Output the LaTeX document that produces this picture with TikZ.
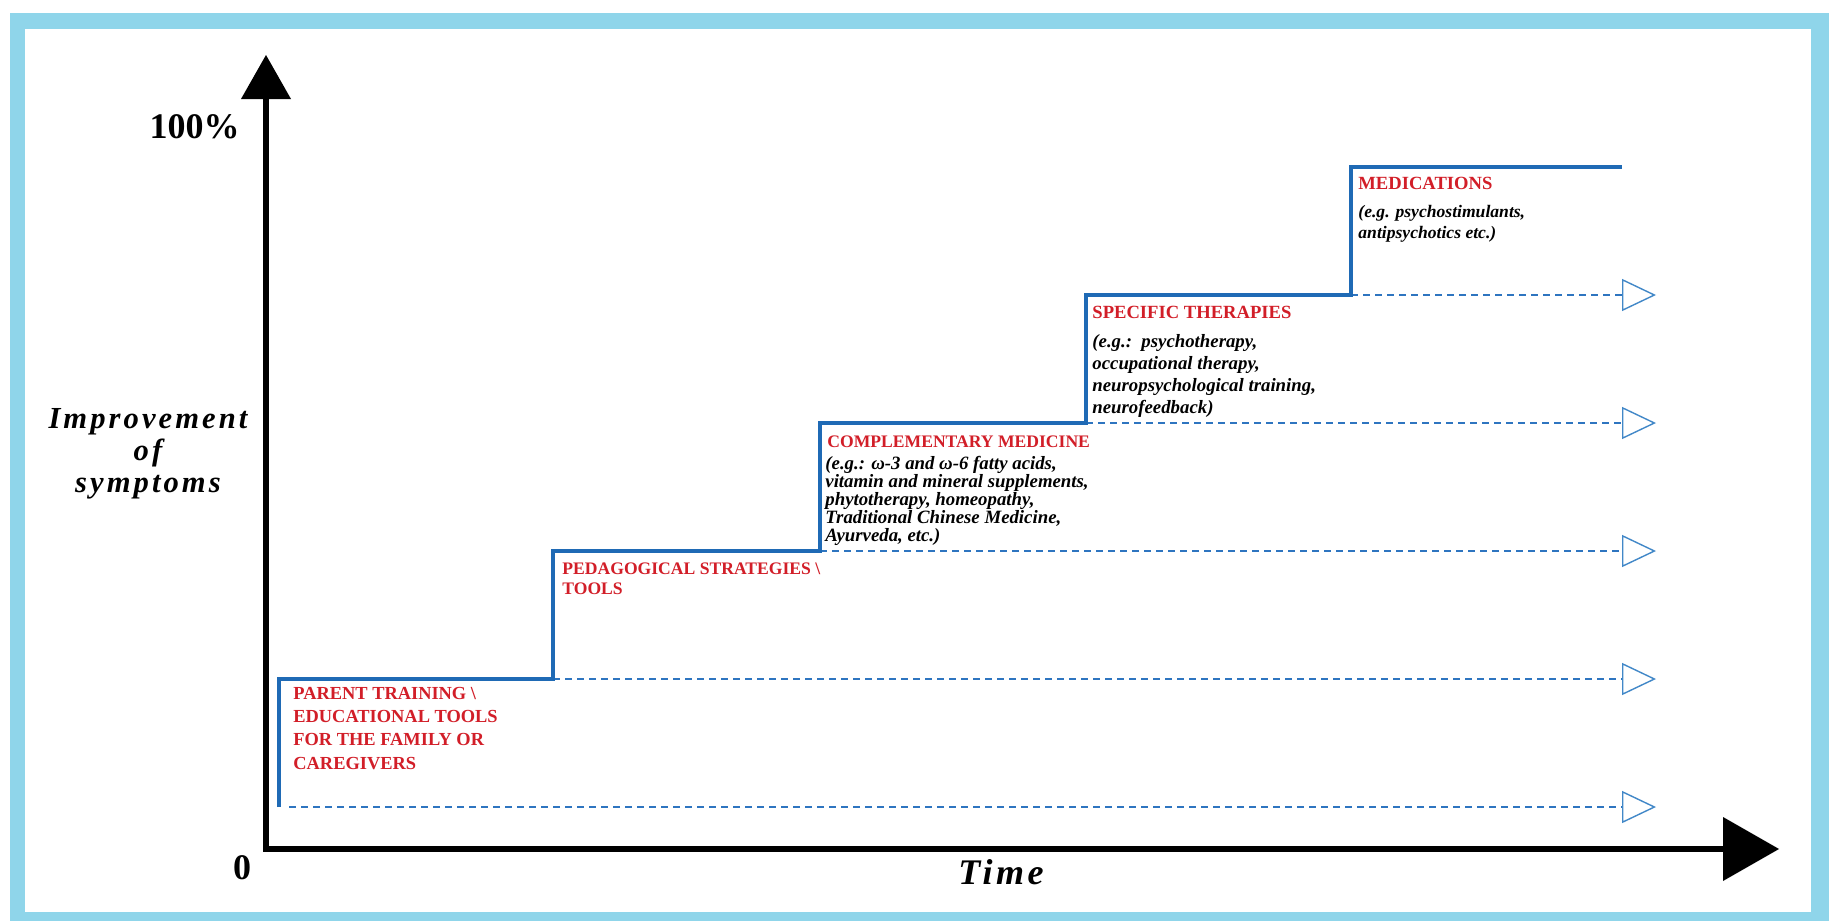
\documentclass[tikz,border=0pt]{standalone}
\usepackage{fontspec}
\setmainfont{Liberation Serif}
\newfontfamily\spacedfont[LetterSpace=10]{Liberation Serif}
\usetikzlibrary{arrows.meta,positioning}
\definecolor{framecyan}{RGB}{143,213,234}
\definecolor{stepblue}{RGB}{31,106,181}
\definecolor{dashblue}{RGB}{46,117,192}
\definecolor{tipblue}{RGB}{66,136,200}
\definecolor{labelred}{RGB}{210,30,40}
\tikzset{
  steplabel/.style={anchor=north west,inner sep=0pt,align=left,text=labelred,
    font=\fontsize{9.3}{11.6}\selectfont\bfseries},
  examples/.style={anchor=north west,inner sep=0pt,align=left,
    font=\fontsize{9.4}{11}\selectfont\bfseries\itshape},
  stepline/.style={stepblue,line width=2pt},
  guide/.style={dashblue,line width=1.2pt,dash pattern=on 3.5pt off 2.5pt,
    -{Triangle[open,length=17pt,width=16pt,line width=0.7pt,color=tipblue]}},
}
\begin{document}
\begin{tikzpicture}[x=0.5pt,y=-0.5pt]
\useasboundingbox (0,0) rectangle (1829,921);
%frame
\fill[framecyan] (10,13) rectangle (1829,921);
\fill[white] (25,29) rectangle (1811,912);
%axes
\coordinate (origin) at (266,849);
\coordinate (ytip) at (266,55);
\coordinate (xtip) at (1779,849);
\draw[line width=2.8pt,
  {Triangle[length=22pt,width=25pt,line width=0pt]}-{Triangle[length=28pt,width=32pt,line width=0pt]}]
  (ytip) -- (origin) -- (xtip);
\node[font=\fontsize{18}{20}\selectfont\bfseries,anchor=east,inner sep=0pt] (full) at (240,127) {100\%};
\node[font=\fontsize{18}{20}\selectfont\bfseries,inner sep=0pt] (zero) at (242,868) {0};
\node[font=\spacedfont\fontsize{15.3}{16}\selectfont\bfseries\itshape,align=center,anchor=north,inner sep=0pt]
  (ylabel) at (148,408) {Improvement\\of\\symptoms};
\node[font=\spacedfont\fontsize{18}{20}\selectfont\bfseries\itshape,inner sep=0pt] (xlabel) at (1001,872) {Time};
%steps
\coordinate (base) at (279,807);
\coordinate (A1) at (279,679);
\coordinate (A2) at (553,551);
\coordinate (A3) at (820,423);
\coordinate (A4) at (1086,295);
\coordinate (A5) at (1351,167);
\coordinate (stepend) at (1622,167);
\coordinate (tipx) at (1656,0);
\coordinate (g0) at (289,807);
\foreach \s/\t in {A1/A2,A2/A3,A3/A4,A4/A5} \draw[guide] (\s -| \t) -- (\s -| tipx);
\draw[guide] (g0) -- (g0 -| tipx);
\draw[stepline] (base) -- (A1) -- (A1 -| A2) -- (A2) -- (A2 -| A3) -- (A3) -- (A3 -| A4) -- (A4) -- (A4 -| A5) -- (A5) -- (stepend);
%labels
\node[steplabel,font=\fontsize{9.2}{11.6}\selectfont\bfseries] (parentlbl) at (293,687) {PARENT TRAINING \textbackslash\\EDUCATIONAL TOOLS\\FOR THE FAMILY OR\\CAREGIVERS};
\node[steplabel,font=\fontsize{8.8}{10.2}\selectfont\bfseries] (pedalbl) at (562,562) {PEDAGOGICAL STRATEGIES \textbackslash\\TOOLS};
\node[steplabel,font=\fontsize{8.8}{10}\selectfont\bfseries] (complbl) at (827,435) {COMPLEMENTARY MEDICINE};
\node[examples,font=\fontsize{9.4}{9}\selectfont\bfseries\itshape] (complex) at (825,456)
  {(e.g.: ω-3 and ω-6 fatty acids,\\vitamin and mineral supplements,\\phytotherapy, homeopathy,\\Traditional Chinese Medicine,\\Ayurveda, etc.)};
\node[steplabel] (speclbl) at (1092,306) {SPECIFIC THERAPIES};
\node[examples] (specex) at (1092,334) {(e.g.:\ \ psychotherapy,\\occupational therapy,\\neuropsychological training,\\neurofeedback)};
\node[steplabel] (medlbl) at (1358,177) {MEDICATIONS};
\node[examples,font=\fontsize{8.8}{10.5}\selectfont\bfseries\itshape] (medex) at (1358,205) {(e.g. psychostimulants,\\antipsychotics etc.)};
\end{tikzpicture}
\end{document}
